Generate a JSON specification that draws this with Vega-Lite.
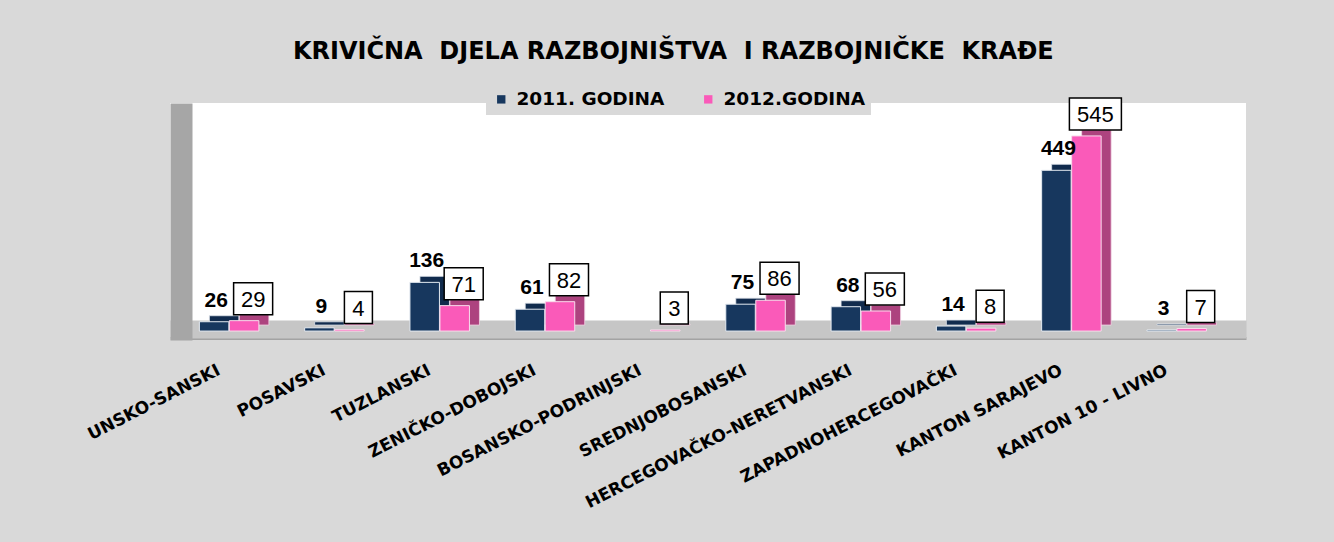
{
  "$schema": "https://vega.github.io/schema/vega-lite/v6.json",
  "width": 1076,
  "height": 237,
  "autosize": {"type": "none"},
  "padding": {"left": 170, "top": 103, "right": 88, "bottom": 202},
  "background": "#d9d9d9",
  "config": {"view": {"fill": "white", "stroke": null}},
  "title": {
    "text": "KRIVIČNA\u00a0 DJELA RAZBOJNIŠTVA\u00a0 I RAZBOJNIČKE\u00a0 KRAĐE",
    "font": "DejaVu Sans",
    "fontWeight": "bold",
    "fontSize": 24,
    "color": "black",
    "anchor": "middle",
    "frame": "bounds",
    "offset": 20,
    "dx": 8
  },
  "data": {
    "values": [
      {"region": "UNSKO-SANSKI", "year": "2011. GODINA", "value": 26},
      {"region": "UNSKO-SANSKI", "year": "2012.GODINA", "value": 29},
      {"region": "POSAVSKI", "year": "2011. GODINA", "value": 9},
      {"region": "POSAVSKI", "year": "2012.GODINA", "value": 4},
      {"region": "TUZLANSKI", "year": "2011. GODINA", "value": 136},
      {"region": "TUZLANSKI", "year": "2012.GODINA", "value": 71},
      {"region": "ZENIČKO-DOBOJSKI", "year": "2011. GODINA", "value": 61},
      {"region": "ZENIČKO-DOBOJSKI", "year": "2012.GODINA", "value": 82},
      {"region": "BOSANSKO-PODRINJSKI", "year": "2012.GODINA", "value": 3},
      {"region": "SREDNJOBOSANSKI", "year": "2011. GODINA", "value": 75},
      {"region": "SREDNJOBOSANSKI", "year": "2012.GODINA", "value": 86},
      {"region": "HERCEGOVAČKO-NERETVANSKI", "year": "2011. GODINA", "value": 68},
      {"region": "HERCEGOVAČKO-NERETVANSKI", "year": "2012.GODINA", "value": 56},
      {"region": "ZAPADNOHERCEGOVAČKI", "year": "2011. GODINA", "value": 14},
      {"region": "ZAPADNOHERCEGOVAČKI", "year": "2012.GODINA", "value": 8},
      {"region": "KANTON SARAJEVO", "year": "2011. GODINA", "value": 449},
      {"region": "KANTON SARAJEVO", "year": "2012.GODINA", "value": 545},
      {"region": "KANTON 10 - LIVNO", "year": "2011. GODINA", "value": 3},
      {"region": "KANTON 10 - LIVNO", "year": "2012.GODINA", "value": 7}
    ]
  },
  "layer": [
    {
      "transform": [{"filter": "datum.year === '2011. GODINA'"}],
      "mark": {"type": "bar", "color": "#112b4d", "width": 29.5, "xOffset": -5, "yOffset": -6, "y2Offset": -6, "stroke": "#dfe5ec", "strokeWidth": 0.8},
      "encoding": {
        "x": {"field": "region", "type": "nominal"},
        "y": {"field": "value", "type": "quantitative"},
        "y2": {"datum": 0}
      }
    },
    {
      "transform": [{"filter": "datum.year === '2012.GODINA'"}],
      "mark": {"type": "bar", "color": "#ad437f", "width": 29.5, "xOffset": 25, "yOffset": -6, "y2Offset": -6, "stroke": "#f2d6e6", "strokeWidth": 0.8},
      "encoding": {
        "x": {"field": "region", "type": "nominal"},
        "y": {"field": "value", "type": "quantitative"},
        "y2": {"datum": 0}
      }
    },
    {
      "transform": [{"filter": "datum.year === '2011. GODINA'"}],
      "mark": {"type": "bar", "width": 29.5, "xOffset": -15, "stroke": "#e4eaf1", "strokeWidth": 1},
      "encoding": {
        "x": {
          "field": "region",
          "type": "nominal",
          "scale": {
            "domain": ["UNSKO-SANSKI", "POSAVSKI", "TUZLANSKI", "ZENIČKO-DOBOJSKI", "BOSANSKO-PODRINJSKI", "SREDNJOBOSANSKI", "HERCEGOVAČKO-NERETVANSKI", "ZAPADNOHERCEGOVAČKI", "KANTON SARAJEVO", "KANTON 10 - LIVNO"],
            "paddingInner": 0,
            "paddingOuter": 0.11,
            "align": 0.28
          },
          "axis": {
            "title": null,
            "offset": -11,
            "domain": true,
            "domainColor": "#c6c6c6",
            "domainWidth": 18,
            "domainCap": "butt",
            "labelAngle": -27,
            "labelAlign": "right",
            "labelBaseline": "middle",
            "labelFont": "DejaVu Sans",
            "labelFontWeight": "bold",
            "labelFontSize": 17,
            "labelColor": "black",
            "ticks": false,
            "tickSize": 0,
            "grid": false,
            "labelPadding": 40,
            "labelOffset": -10,
            "labelLimit": 400,
            "labelOverlap": false
          }
        },
        "y": {
          "field": "value",
          "type": "quantitative",
          "scale": {"domain": [-25, 637], "nice": false, "zero": false},
          "axis": {
            "title": null,
            "offset": -11,
            "domain": true,
            "domainColor": "#a6a6a6",
            "domainWidth": 22,
            "domainCap": "butt",
            "labels": false,
            "ticks": false,
            "grid": true,
            "values": [-19.5],
            "gridColor": "#a3a3a3",
            "gridWidth": 3
          }
        },
        "y2": {"datum": 0},
        "color": {
          "field": "year",
          "type": "nominal",
          "scale": {"domain": ["2011. GODINA", "2012.GODINA"], "range": ["#17375e", "#fa5ab9"]},
          "legend": {
            "orient": "none",
            "legendX": 316,
            "legendY": -19,
            "direction": "horizontal",
            "title": null,
            "symbolType": "square",
            "symbolSize": 70,
            "symbolStrokeWidth": 0,
            "labelFont": "DejaVu Sans",
            "labelFontWeight": "bold",
            "labelFontSize": 18.5,
            "labelColor": "black",
            "labelOffset": 6,
            "columnPadding": 34,
            "fillColor": "#d9d9d9",
            "padding": 6
          }
        }
      }
    },
    {
      "transform": [{"filter": "datum.year === '2012.GODINA'"}],
      "mark": {"type": "bar", "width": 29.5, "xOffset": 15, "stroke": "#f9dcec", "strokeWidth": 1},
      "encoding": {
        "x": {"field": "region", "type": "nominal"},
        "y": {"field": "value", "type": "quantitative"},
        "y2": {"datum": 0},
        "color": {"field": "year", "type": "nominal"}
      }
    },
    {
      "transform": [{"filter": "datum.year === '2011. GODINA'"}],
      "mark": {"type": "text", "font": "Liberation Sans", "fontWeight": "bold", "fontSize": 21, "baseline": "alphabetic", "align": "center", "dy": -15, "dx": -13, "color": "black"},
      "encoding": {
        "x": {"field": "region", "type": "nominal"},
        "y": {"field": "value", "type": "quantitative"},
        "text": {"field": "value", "type": "quantitative"}
      }
    },
    {
      "transform": [{"filter": "datum.year === '2012.GODINA' && datum.value < 10"}],
      "mark": {"type": "point", "shape": "M-0.875,-1H0.875V1H-0.875Z", "size": 1024, "filled": false, "fill": "white", "stroke": "black", "strokeWidth": 1.5, "opacity": 1, "fillOpacity": 1, "strokeOpacity": 1, "xOffset": 24, "yOffset": -22},
      "encoding": {
        "x": {"field": "region", "type": "nominal"},
        "y": {"field": "value", "type": "quantitative"}
      }
    },
    {
      "transform": [{"filter": "datum.year === '2012.GODINA' && datum.value >= 10 && datum.value < 100"}],
      "mark": {"type": "point", "shape": "M-1.22,-1H1.22V1H-1.22Z", "size": 1024, "filled": false, "fill": "white", "stroke": "black", "strokeWidth": 1.5, "opacity": 1, "fillOpacity": 1, "strokeOpacity": 1, "xOffset": 24, "yOffset": -22},
      "encoding": {
        "x": {"field": "region", "type": "nominal"},
        "y": {"field": "value", "type": "quantitative"}
      }
    },
    {
      "transform": [{"filter": "datum.year === '2012.GODINA' && datum.value >= 100"}],
      "mark": {"type": "point", "shape": "M-1.625,-1H1.625V1H-1.625Z", "size": 1024, "filled": false, "fill": "white", "stroke": "black", "strokeWidth": 1.5, "opacity": 1, "fillOpacity": 1, "strokeOpacity": 1, "xOffset": 24, "yOffset": -22},
      "encoding": {
        "x": {"field": "region", "type": "nominal"},
        "y": {"field": "value", "type": "quantitative"}
      }
    },
    {
      "transform": [{"filter": "datum.year === '2012.GODINA'"}],
      "mark": {"type": "text", "font": "Liberation Sans", "fontSize": 22, "baseline": "middle", "align": "center", "dx": 24, "dy": -21, "color": "black"},
      "encoding": {
        "x": {"field": "region", "type": "nominal"},
        "y": {"field": "value", "type": "quantitative"},
        "text": {"field": "value", "type": "quantitative"}
      }
    }
  ]
}
